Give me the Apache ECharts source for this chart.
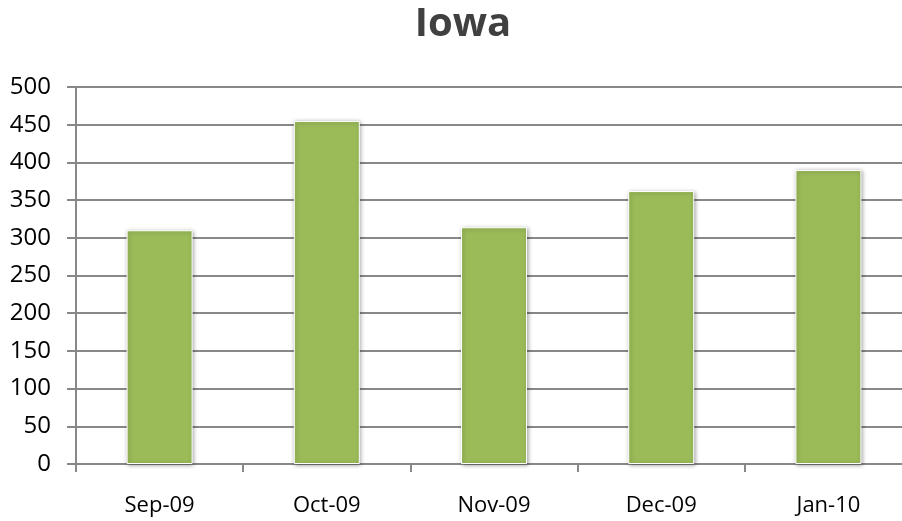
<!DOCTYPE html>
<html>
<head>
<meta charset="utf-8">
<script src="https://cdn.jsdelivr.net/npm/echarts@6/dist/echarts.min.js"></script>
<style>
html, body { margin: 0; padding: 0; background: #fff; }
#main { width: 902px; height: 521px; }
</style>
</head>
<body>
<div id="main"></div>
<script>
var months = ['Sep-09', 'Oct-09', 'Nov-09', 'Dec-09', 'Jan-10'];
var sales = [310, 455, 314, 362, 390];
var yTicks = [0, 500, 50];

var myChart = echarts.init(document.getElementById('main'));
var option = {
    backgroundColor: '#fff',
    animation: false,
    title: {
        text: 'Iowa',
        left: 458,
        top: 0,
        textAlign: 'center',
        textStyle: { fontFamily: 'Open Sans', fontSize: 40, fontWeight: 'bold', color: '#404040' }
    },
    grid: { left: 76, right: -10, top: 87, bottom: 57, outerBoundsMode: 'none', containLabel: false },
    xAxis: {
        type: 'category',
        data: months,
        axisLine: { lineStyle: { color: '#888', width: 2 } },
        axisTick: { show: true, length: 8, lineStyle: { color: '#888', width: 2 } },
        axisLabel: { fontFamily: 'Open Sans', fontSize: 22, color: '#000', margin: 31 }
    },
    yAxis: {
        type: 'value',
        min: yTicks[0],
        max: yTicks[1],
        interval: yTicks[2],
        axisLine: { show: true, lineStyle: { color: '#888', width: 2 } },
        axisTick: { show: true, length: 9, lineStyle: { color: '#888', width: 2 } },
        axisLabel: { fontFamily: 'Open Sans', fontSize: 24, color: '#000', margin: 25 },
        splitLine: { lineStyle: { color: '#888', width: 2 } }
    },
    series: [{
        type: 'bar',
        data: sales,
        barWidth: 66,
        itemStyle: {
            color: '#9BBB59',
            borderColor: '#ffffff',
            borderWidth: 1,
            shadowColor: 'rgba(0,0,0,0.35)',
            shadowBlur: 4,
            shadowOffsetX: 1,
            shadowOffsetY: 1
        }
    }]
};
myChart.setOption(option);
</script>
</body>
</html>
